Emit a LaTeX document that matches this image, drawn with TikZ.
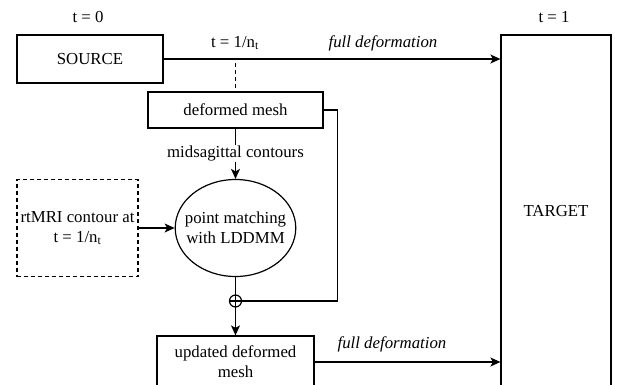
\documentclass[tikz,border=0pt]{standalone}
\usepackage{fontspec}
\setmainfont{Liberation Serif}
\usetikzlibrary{shapes.geometric,arrows.meta}
\begin{document}
\begin{tikzpicture}[x=1pt,y=-1pt,>={Stealth[length=10pt,width=9pt,inset=2.5pt]},line width=1.2pt,font=\fontsize{16.8}{20}\selectfont,
		box/.style={draw,rectangle,inner sep=0pt,align=center},
		lbl/.style={inner sep=1pt}]
	\clip (0,0) rectangle (622,384);
	% boxes
	\node[box,minimum width=146,minimum height=48] (src) at (90,59) {SOURCE};
	\node[box,minimum width=110,minimum height=353] (tgt) at (556,211.5) {TARGET};
	\node[box,minimum width=175,minimum height=36] (defm) at (235.5,110) {deformed mesh};
	\node[box,dash pattern=on 4pt off 3pt,minimum width=121,minimum height=97] (mri) at (77.5,228) {rtMRI contour at\\t = 1/n\textsubscript{t}};
	\node[draw,ellipse,inner xsep=-8pt,inner ysep=0pt,minimum width=120,minimum height=97,align=center] (lddmm) at (235.5,228) {point matching\\with LDDMM};
	\node[draw,circle,inner sep=0pt,minimum size=12] (op) at (235.5,301) {};
	\node[box,minimum width=157,minimum height=52] (upd) at (235.5,362) {updated deformed\\mesh};
	% time stamps
	\node[lbl] (t0) at (88,17) {t = 0};
	\node[lbl] (t1) at (554,17) {t = 1};
	\node[lbl] (tn) at (235,43) {t = 1/n\textsubscript{t}};
	\node[lbl] (fd1) at (383,43) {\itshape full deformation};
	\node[lbl] (fd2) at (392,344) {\itshape full deformation};
	% connectors
	\draw[->] (src.east) -- (src.east -| tgt.west);
	\draw[dash pattern=on 4pt off 3pt] ([yshift=-4]defm.north |- src.east) -- (defm.north);
	\draw[->] (defm.south) -- node[fill=white,inner sep=1pt] {midsagittal contours} (lddmm.north);
	\draw[->] (mri.east) -- (lddmm.west);
	\draw (lddmm.south) -- (op.north) -- (op.south) (op.west) -- (op.east);
	\draw (defm.east) -- ++(14,0) |- (op.east);
	\draw[->] (op.south) -- (upd.north);
	\draw[->] (upd.east) -- (upd.east -| tgt.west);
\end{tikzpicture}
\end{document}
